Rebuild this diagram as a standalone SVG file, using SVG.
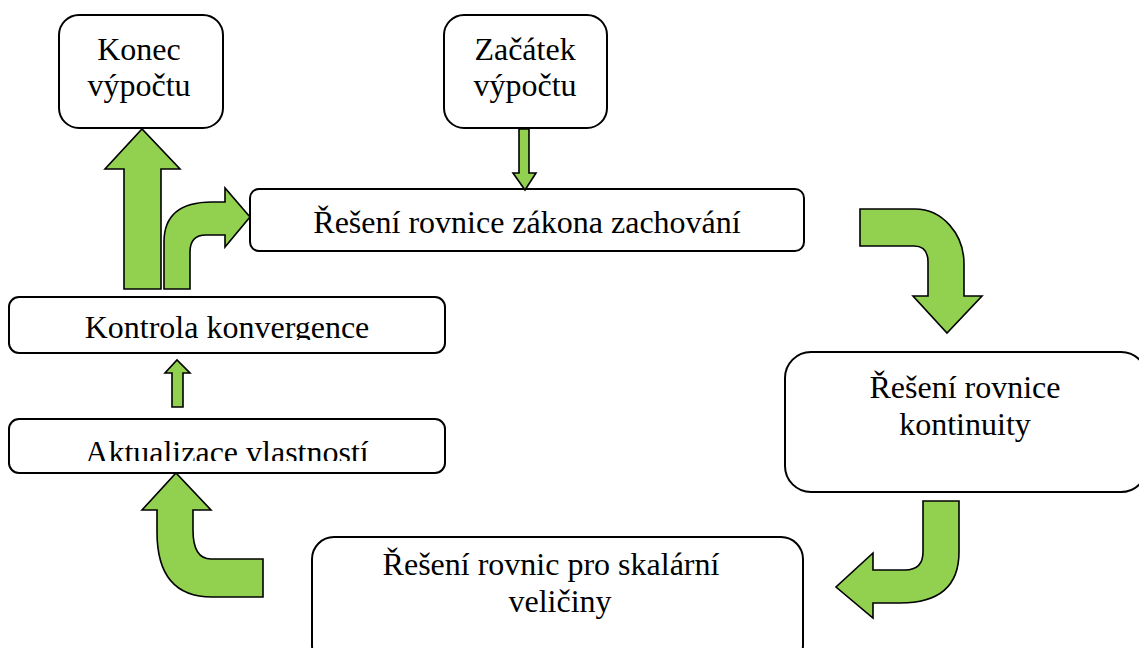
<svg xmlns="http://www.w3.org/2000/svg" width="1139" height="648" viewBox="0 0 1139 648">
<style>
.box{fill:#fff;stroke:#000;stroke-width:2}
.t{font-size:32px;fill:#000;text-anchor:middle}
.arr{fill:#92d050;stroke:#000;stroke-width:1.6;stroke-linejoin:miter}
</style>
<defs>
<clipPath id="c1"><rect x="0" y="290" width="460" height="50"/></clipPath>
<clipPath id="c2"><rect x="0" y="410" width="460" height="51"/></clipPath>
</defs>
<rect width="1139" height="648" fill="#fff"/>
<g font-family="'Liberation Serif', 'Times New Roman', Times, serif">
<g id="konec"><rect class="box" x="59" y="15" width="164" height="113" rx="20"/><text class="t" x="139" y="60">Konec</text><text class="t" x="139" y="96">výpočtu</text></g>
<g id="zacatek"><rect class="box" x="444" y="15" width="163" height="113" rx="20"/><text class="t" x="525" y="60">Začátek</text><text class="t" x="525" y="96">výpočtu</text></g>
<g id="zachovani"><rect class="box" x="250" y="189" width="554" height="62" rx="9"/><text class="t" x="527" y="233">Řešení rovnice zákona zachování</text></g>
<g id="kontrola"><rect class="box" x="9" y="297" width="436" height="56" rx="10"/><text class="t" x="227" y="338" clip-path="url(#c1)">Kontrola konvergence</text></g>
<g id="aktualizace"><rect class="box" x="9" y="419" width="436" height="54" rx="10"/><text class="t" x="227" y="463" clip-path="url(#c2)">Aktualizace vlastností</text></g>
<g id="kontinuita"><rect class="box" x="785" y="352" width="362" height="140" rx="26"/><text class="t" x="965" y="398">Řešení rovnice</text><text class="t" x="965" y="435">kontinuity</text></g>
<g id="skalarni"><rect class="box" x="312" y="537" width="491" height="130" rx="22"/><text class="t" x="551" y="575">Řešení rovnic pro skalární</text><text class="t" x="560" y="612">veličiny</text></g>
</g>
<g id="connectors">
<path class="arr" d="M124,289 L124,169 L105,169 L142,129 L180,169 L161,169 L161,289 Z"/>
<path class="arr" d="M164,289 L164,242 Q164,202 212,202 L225,202 L225,188 L250,217 L225,247 L225,235 L206,235 Q190,235 190,252 L190,289 Z"/>
<path class="arr" d="M519,129 L529,129 L529,173 L536,173 L525,190 L513,173 L519,173 Z"/>
<path class="arr" d="M172,407 L172,373 L165,373 L177,360 L190,373 L183,373 L183,407 Z"/>
<path class="arr" d="M860,209 L915,209 A49,55 0 0 1 964,264 L964,296 L982,296 L947,333 L913,296 L928,296 L928,262 Q928,246 914,246 L860,246 Z"/>
<path class="arr" d="M923,501 L959,501 L959,552 Q959,603 900,603 L873,603 L873,618 L836,587 L873,553 L873,570 L905,570 Q923,570 923,552 Z"/>
<path class="arr" d="M263,559 L211,559 Q193,559 193,530 L193,510 L211,510 L176,473 L142,510 L157,510 L157,532 Q157,597 212,597 L263,597 Z"/>
</g>
</svg>
